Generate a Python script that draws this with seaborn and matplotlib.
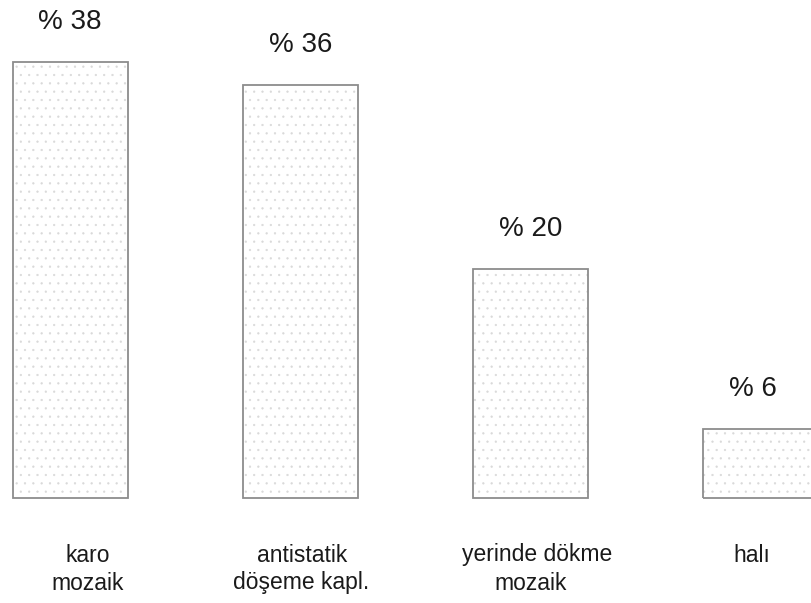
import matplotlib
matplotlib.use("Agg")
import matplotlib.pyplot as plt
from matplotlib.patches import Rectangle
import seaborn as sns
import pandas as pd

categories = ["karo\nmozaik", "antistatik\ndöşeme kapl.", "yerinde dökme\nmozaik", "halı"]
values = [38, 36, 20, 6]
value_labels = ["% 38", "% 36", "% 20", "% 6"]

sns.set_theme(style="white")
plt.rcParams["font.family"] = ["Liberation Sans", "DejaVu Sans"]
plt.rcParams["hatch.linewidth"] = 0.4

df = pd.DataFrame({"cat": categories, "val": values})

fig = plt.figure(figsize=(8.11, 6.03), dpi=100)
ax = fig.add_axes([0, 0, 1, 1])

sns.barplot(data=df, x="cat", y="val", ax=ax, width=0.5, color="white",
            saturation=1, edgecolor="#d9d9d9", linewidth=0, hatch="..")

# Outline each bar in a darker gray
for p in ax.patches:
    ax.add_patch(Rectangle((p.get_x(), p.get_y()), p.get_width(), p.get_height(),
                           fill=False, edgecolor="#8c8c8c", linewidth=1.3, zorder=3))

px_per_unit = 11.47
ax.set_xlim(-70.5 / 230, (811 - 70.5) / 230)
ax.set_ylim(-105 / px_per_unit, 498 / px_per_unit)
ax.set_axis_off()

# value labels above bars
val_dx = [-1, 0, 0, -8]
for i, (v, lab) in enumerate(zip(values, value_labels)):
    ax.annotate(lab, xy=(i, v), xytext=(val_dx[i], 40), textcoords="offset pixels",
                ha="center", va="center", fontsize=20, color="#1a1a1a")

# category labels below bars (two lines each)
line_dx = [(17, 17), (2, 1), (7, 0.5), (-9, 0)]
for i, cat in enumerate(categories):
    lines = cat.split("\n")
    for j, line in enumerate(lines):
        ax.annotate(line, xy=(i, 0), xytext=(line_dx[i][j], -57 - 28 * j),
                    textcoords="offset pixels", ha="center", va="center",
                    fontsize=16.5, color="#1a1a1a")

fig.savefig("out.png", dpi=100)
